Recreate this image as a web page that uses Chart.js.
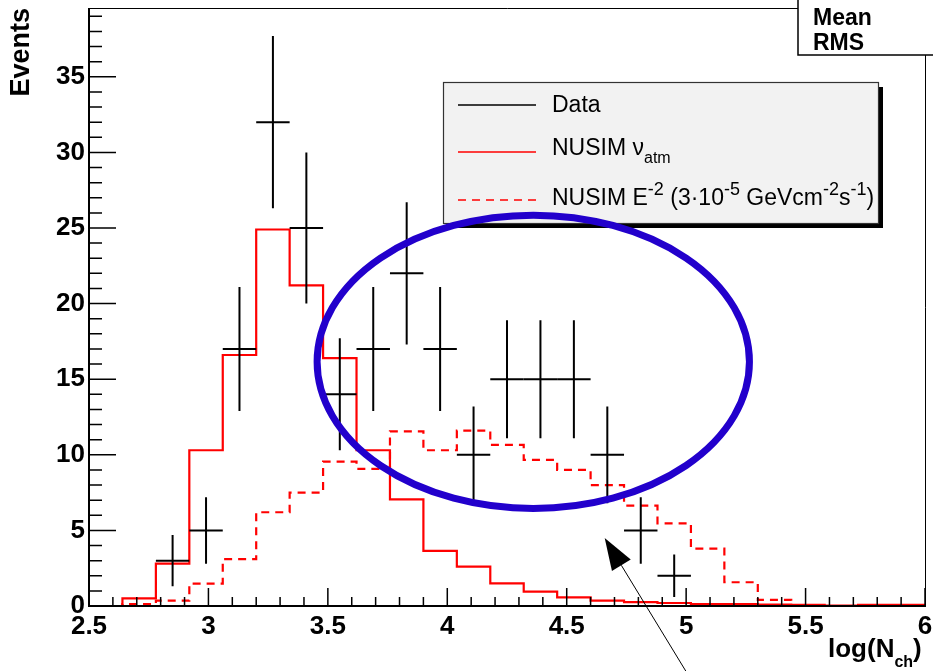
<!DOCTYPE html>
<html>
<head>
<meta charset="utf-8">
<script src="https://cdn.jsdelivr.net/npm/chart.js@4.4.0/dist/chart.umd.min.js"></script>
<style>
body { margin: 0; background: #fff; }
#wrap { width: 933px; height: 671px; }
</style>
</head>
<body>
<div id="wrap"><canvas id="nchchart" width="933" height="671"></canvas></div>
<script>
// 25 bins in log(Nch) from 2.5 to 6
var binEdges = [2.5, 2.64, 2.78, 2.92, 3.06, 3.2, 3.34, 3.48, 3.62, 3.76, 3.9, 4.04, 4.18,
                4.32, 4.46, 4.6, 4.74, 4.88, 5.02, 5.16, 5.3, 5.44, 5.58, 5.72, 5.86, 6.0]
var atmCounts = [0, 0.5, 2.8, 10.3, 16.6, 24.9, 21.2, 16.4, 10.3, 7.05, 3.64, 2.6, 1.5,
                 0.95, 0.57, 0.35, 0.25, 0.2, 0.12, 0.12, 0.1, 0.08, 0.03, 0.08, 0.08]
var e2Counts = [0, 0.13, 0.35, 1.48, 3.1, 6.2, 7.5, 9.55, 9.07, 11.55, 10.3, 11.6, 10.65,
                9.66, 9.0, 8.0, 6.64, 5.47, 3.8, 1.57, 0.4, 0, 0, 0, 0]
var dataX = [2.85, 2.99, 3.13, 3.27, 3.41, 3.55, 3.69, 3.83, 3.97, 4.11, 4.25, 4.39, 4.53, 4.67, 4.81, 4.95]
var dataY = [3, 5, 17, 32, 25, 14, 17, 22, 17, 10, 15, 15, 15, 10, 5, 2]
var dataErr = [1.7, 2.2, 4.1, 5.7, 5.0, 3.7, 4.1, 4.7, 4.1, 3.2, 3.9, 3.9, 3.9, 3.2, 2.2, 1.4]
var xTickValues = [2.5, 3, 3.5, 4, 4.5, 5, 5.5, 6]
var yTickValues = [0, 5, 10, 15, 20, 25, 30, 35]

// hand drawn marks on top of the plot (data coordinates)
var circleMark = { x: 4.36, y: 16.15, rx: 0.905, ry: 9.7 }
var arrowMark = { x0: 5.01, y0: -4.6, x1: 4.659, y1: 4.5 }

var FONT = '"Liberation Sans", Arial, Helvetica, sans-serif'

function histPoints(counts) {
	var pts = []
	for (var i = 0; i < counts.length; i++) {
		pts.push({ x: binEdges[i], y: counts[i] })
	}
	pts.push({ x: binEdges[counts.length], y: counts[counts.length - 1] })
	return pts
}

function drawRuns(ctx, x, y, runs) {
	runs.forEach(function (r) {
		ctx.font = (r[3] ? 'bold ' : '') + r[2] + 'px ' + FONT
		ctx.fillText(r[0], x, y + r[1])
		x += ctx.measureText(r[0]).width
	})
	return x
}

function noPad(s) {
	s.paddingTop = 0
	s.paddingBottom = 0
	s.paddingLeft = 0
	s.paddingRight = 0
}

var rootStyle = {
	id: 'rootStyle',
	afterDatasetsDraw: function (chart) {
		var ctx = chart.ctx
		var xs = chart.scales.x, ys = chart.scales.y
		var area = chart.chartArea
		var ds = chart.data.datasets
		ctx.save()

		// data points with error crosses
		var half = (binEdges[1] - binEdges[0]) / 2
		var meta = chart.getDatasetMeta(0)
		ctx.strokeStyle = ds[0].borderColor
		ctx.lineWidth = 2
		meta.data.forEach(function (pt, i) {
			var xa = xs.getPixelForValue(dataX[i] - half)
			var xb = xs.getPixelForValue(dataX[i] + half)
			var ya = ys.getPixelForValue(dataY[i] - dataErr[i])
			var yb = ys.getPixelForValue(dataY[i] + dataErr[i])
			ctx.beginPath()
			ctx.moveTo(xa, pt.y); ctx.lineTo(xb, pt.y)
			ctx.moveTo(pt.x, ya); ctx.lineTo(pt.x, yb)
			ctx.stroke()
		})

		// frame
		ctx.strokeStyle = '#000'
		ctx.lineWidth = 1
		ctx.beginPath()
		ctx.moveTo(area.left, area.top + 0.5); ctx.lineTo(area.right + 0.5, area.top + 0.5)
		ctx.lineTo(area.right + 0.5, area.bottom)
		ctx.stroke()
		ctx.lineWidth = 2
		ctx.beginPath()
		ctx.moveTo(area.left, area.top); ctx.lineTo(area.left, area.bottom)
		ctx.lineTo(area.right + 1, area.bottom)
		ctx.stroke()

		// inward ticks
		ctx.lineWidth = 1.5
		ctx.beginPath()
		for (var k = Math.round(xs.min * 10); k <= Math.round(xs.max * 10); k++) {
			var px = xs.getPixelForValue(k / 10)
			var len = (k % 5 === 0) ? 18 : 9
			ctx.moveTo(px, area.bottom); ctx.lineTo(px, area.bottom - len)
		}
		for (var v = 0; v <= Math.floor(ys.max); v++) {
			var py = ys.getPixelForValue(v)
			var ln = (v % 5 === 0) ? 27 : 13
			ctx.moveTo(area.left, py); ctx.lineTo(area.left + ln, py)
		}
		ctx.stroke()

		// x axis title log(N_ch)
		ctx.fillStyle = '#000'
		ctx.textBaseline = 'alphabetic'
		ctx.textAlign = 'left'
		drawRuns(ctx, 828, 657, [['log(N', 0, 26, true], ['ch', 10, 16, true], [')', 0, 26, true]])

		// legend box
		var lb = { x: 443, y: 82, w: 435, h: 141 }
		ctx.fillStyle = '#000'
		ctx.fillRect(lb.x + 5, lb.y + 5, lb.w, lb.h)
		ctx.fillStyle = '#f2f2f2'
		ctx.fillRect(lb.x, lb.y, lb.w, lb.h)
		ctx.strokeStyle = '#333'
		ctx.lineWidth = 1.2
		ctx.strokeRect(lb.x + 0.5, lb.y + 0.5, lb.w, lb.h)

		var rows = [
			{ y: 105, base: 112, ds: 0, runs: [['Data', 0, 23]] },
			{ y: 152, base: 155, ds: 1, runs: [['NUSIM ', 0, 23], ['\u03bd', 0, 23], ['atm', 8, 16]] },
			{ y: 200, base: 205, ds: 2, runs: [['NUSIM E', 0, 23], ['-2', -10, 18], [' (3\u00b710', 0, 23], ['-5', -10, 18],
				[' GeVcm', 0, 23], ['-2', -10, 18], ['s', 0, 23], ['-1', -10, 18], [')', 0, 23]] }
		]
		ctx.save()
		ctx.beginPath()
		ctx.rect(lb.x, lb.y, lb.w, lb.h)
		ctx.clip()
		rows.forEach(function (r) {
			var d = ds[r.ds]
			ctx.strokeStyle = d.borderColor
			ctx.lineWidth = 1.5
			ctx.setLineDash(d.borderDash || [])
			ctx.beginPath()
			ctx.moveTo(458, r.y); ctx.lineTo(536, r.y)
			ctx.stroke()
			ctx.setLineDash([])
			ctx.fillStyle = '#000'
			drawRuns(ctx, 552, r.base, r.runs)
		})
		ctx.restore()

		// statistics box (cut by the canvas edge)
		ctx.fillStyle = '#fff'
		ctx.fillRect(798, -2, 140, 57)
		ctx.strokeStyle = '#000'
		ctx.lineWidth = 1.5
		ctx.strokeRect(798, -2, 140, 57)
		ctx.fillStyle = '#000'
		drawRuns(ctx, 813, 25, [['Mean', 0, 23, true]])
		drawRuns(ctx, 813, 50, [['RMS', 0, 23, true]])

		// blue ellipse annotation
		var cx = xs.getPixelForValue(circleMark.x), cy = ys.getPixelForValue(circleMark.y)
		var rx = Math.abs(xs.getPixelForValue(circleMark.x + circleMark.rx) - cx)
		var ry = Math.abs(ys.getPixelForValue(circleMark.y + circleMark.ry) - cy)
		ctx.strokeStyle = '#2200cc'
		ctx.lineWidth = 7
		ctx.beginPath()
		ctx.ellipse(cx, cy, rx, ry, 0, 0, Math.PI * 2)
		ctx.stroke()

		// arrow annotation
		var ax0 = xs.getPixelForValue(arrowMark.x0), ay0 = ys.getPixelForValue(arrowMark.y0)
		var ax1 = xs.getPixelForValue(arrowMark.x1), ay1 = ys.getPixelForValue(arrowMark.y1)
		var ang = Math.atan2(ay1 - ay0, ax1 - ax0)
		var hl = 32, hw = 11
		var bx = ax1 - hl * Math.cos(ang), by = ay1 - hl * Math.sin(ang)
		ctx.strokeStyle = '#000'
		ctx.lineWidth = 1
		ctx.beginPath()
		ctx.moveTo(ax0, ay0); ctx.lineTo(bx, by)
		ctx.stroke()
		ctx.fillStyle = '#000'
		ctx.beginPath()
		ctx.moveTo(ax1, ay1)
		ctx.lineTo(bx + hw * Math.sin(ang), by - hw * Math.cos(ang))
		ctx.lineTo(bx - hw * Math.sin(ang), by + hw * Math.cos(ang))
		ctx.closePath()
		ctx.fill()

		ctx.restore()
	}
}

var dataPoints = dataX.map(function (x, i) { return { x: x, y: dataY[i] } })

new Chart(document.getElementById('nchchart'), {
	type: 'line',
	data: {
		datasets: [{
			label: 'Data',
			data: dataPoints,
			borderColor: '#000',
			showLine: false,
			pointRadius: 0
		}, {
			label: 'NUSIM atm',
			data: histPoints(atmCounts),
			borderColor: '#ff0000',
			borderWidth: 2.2,
			stepped: 'before',
			pointRadius: 0,
			fill: false
		}, {
			label: 'NUSIM E-2',
			data: histPoints(e2Counts),
			borderColor: '#ff0000',
			borderWidth: 2.2,
			borderDash: [8, 6],
			stepped: 'before',
			pointRadius: 0,
			fill: false
		}]
	},
	options: {
		responsive: false,
		animation: false,
		events: [],
		devicePixelRatio: 1,
		layout: { padding: { left: 0, right: 8, top: 8, bottom: 0 } },
		plugins: {
			legend: { display: false },
			tooltip: { enabled: false }
		},
		scales: {
			x: {
				type: 'linear',
				min: 2.5,
				max: 6,
				afterBuildTicks: function (s) { s.ticks = xTickValues.map(function (v) { return { value: v } }) },
				afterFit: function (s) { s.height = 65; noPad(s) },
				grid: { display: false, drawTicks: false },
				border: { display: false },
				ticks: {
					color: '#000',
					padding: 5,
					maxRotation: 0,
					autoSkip: false,
					font: { family: FONT, size: 26, weight: 'bold' },
					callback: function (v) { return String(v) }
				}
			},
			y: {
				type: 'linear',
				min: 0,
				max: 39.55,
				afterBuildTicks: function (s) { s.ticks = yTickValues.map(function (v) { return { value: v } }) },
				afterFit: function (s) { s.width = 89; noPad(s) },
				grid: { display: false, drawTicks: false },
				border: { display: false },
				ticks: {
					color: '#000',
					padding: 4,
					font: { family: FONT, size: 26, weight: 'bold' },
					callback: function (v) { return String(v) }
				},
				title: {
					display: true,
					text: 'Events',
					align: 'end',
					color: '#000',
					padding: { top: 5, bottom: 0 },
					font: { family: FONT, size: 27, weight: 'bold' }
				}
			}
		}
	},
	plugins: [rootStyle]
})
</script>
</body>
</html>
